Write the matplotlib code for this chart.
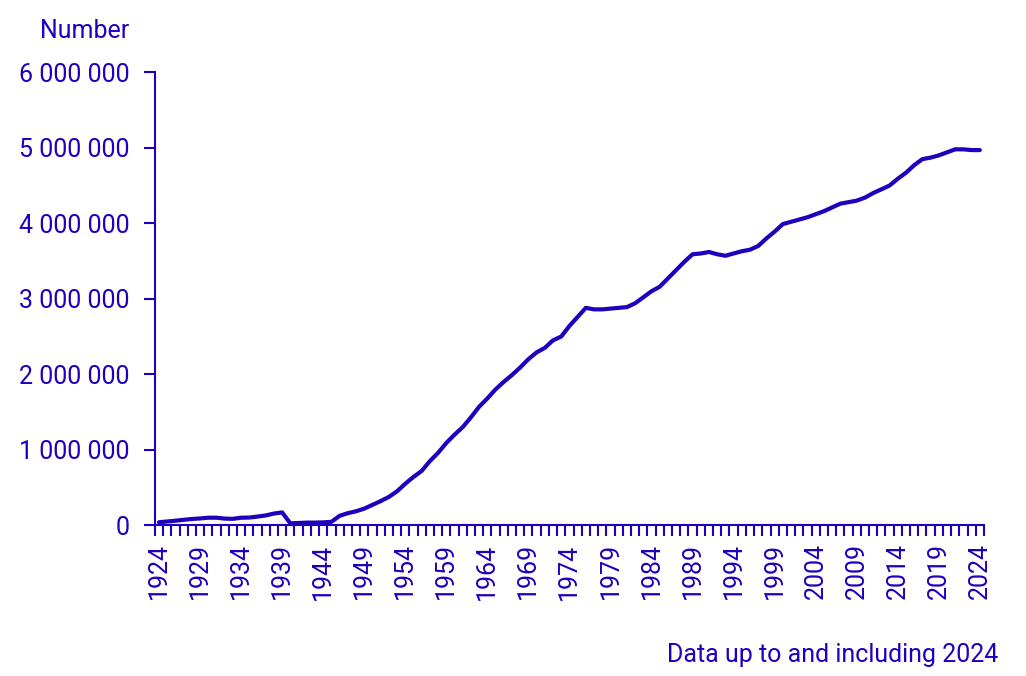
import numpy as np
import matplotlib
import matplotlib.pyplot as plt
from matplotlib.ticker import FuncFormatter

years = list(range(1924, 2025))
cars = [
    40000, 50000, 60000, 72000, 83000, 90000, 100000, 100000, 88000, 85000,      # 1924-1933
    100000, 102000, 115000, 130000, 155000, 170000, 25000, 30000, 35000, 35000,  # 1934-1943
    38000, 45000, 125000, 160000, 185000, 220000, 270000, 320000, 375000, 450000,  # 1944-1953
    550000, 640000, 720000, 850000, 960000, 1090000, 1200000, 1300000, 1430000, 1570000,  # 1954-1963
    1680000, 1800000, 1900000, 1990000, 2090000, 2200000, 2290000, 2350000, 2450000, 2500000,  # 1964-1973
    2640000, 2760000, 2880000, 2860000, 2860000, 2870000, 2880000, 2890000, 2940000, 3020000,  # 1974-1983
    3100000, 3160000, 3270000, 3380000, 3490000, 3590000, 3600000, 3620000, 3590000, 3570000,  # 1984-1993
    3600000, 3630000, 3650000, 3700000, 3800000, 3890000, 3990000, 4020000, 4050000, 4080000,  # 1994-2003
    4120000, 4160000, 4210000, 4260000, 4280000, 4300000, 4340000, 4400000, 4450000, 4500000,  # 2004-2013
    4590000, 4670000, 4770000, 4850000, 4870000, 4900000, 4940000, 4980000, 4980000, 4970000,  # 2014-2023
    4970000,  # 2024
]
y_label = 'Number'
footnote = 'Data up to and including 2024'

blue = '#1e00be'
matplotlib.rcParams['font.family'] = ['Roboto', 'DejaVu Sans']

fig = plt.figure(figsize=[10.26, 6.76], dpi=100)
ax = fig.add_axes([0.151, 0.223, 0.808, 0.670])
ax.plot(years, cars, color=blue, lw=3, solid_joinstyle='round', solid_capstyle='round')

ax.set_xlim(years[0] - 0.5, years[-1] + 0.5)
ax.set_ylim(0, 6000000)
ax.set_yticks(np.arange(0, 6000001, 1000000))
ax.yaxis.set_major_formatter(FuncFormatter(lambda v, p: '{:,.0f}'.format(v).replace(',', ' ')))

# ticks between categories, labels every fifth year
ax.set_xticks(np.arange(years[0] - 0.5, years[-1] + 1, 1))
ax.set_xticklabels([])
ax.set_xticks(years[::5], minor=True)
ax.set_xticklabels([str(y) for y in years[::5]], minor=True, rotation=90)
ax.tick_params(axis='x', which='major', length=8, width=1.5, color=blue, direction='out')
ax.tick_params(axis='x', which='minor', length=0, pad=13, labelsize=18, labelcolor=blue)
ax.tick_params(axis='y', length=8, width=1.5, color=blue, pad=10, labelsize=18, labelcolor=blue)

for s in ['top', 'right']:
    ax.spines[s].set_visible(False)
for s in ['left', 'bottom']:
    ax.spines[s].set_color(blue)
    ax.spines[s].set_linewidth(1.5)

fig.text(40/1026, 1 - 38/676, y_label, color=blue, fontsize=18, ha='left', va='baseline')
fig.text(998/1026, 1 - 662/676, footnote, color=blue, fontsize=18, ha='right', va='baseline')

fig.savefig('out.png', dpi=100)
